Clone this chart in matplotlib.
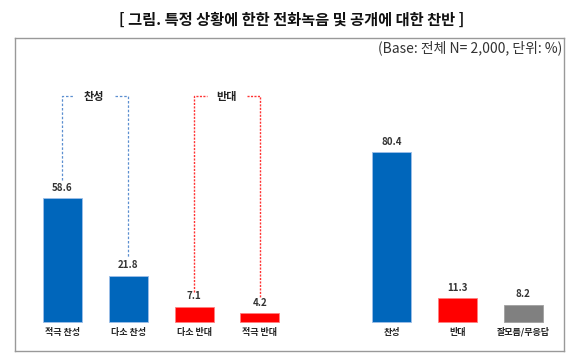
import matplotlib.pyplot as plt

plt.rcParams['font.family'] = ['Noto Sans CJK KR', 'DejaVu Sans']

# 데이터
categories = ['적극 찬성', '다소 찬성', '다소 반대', '적극 반대', '', '찬성', '반대', '잘모름/무응답']
values = [58.6, 21.8, 7.1, 4.2, None, 80.4, 11.3, 8.2]
colors = ['#0066BB', '#0066BB', '#FF0000', '#FF0000', None, '#0066BB', '#FF0000', '#808080']
edges = ['#9DBEE8', '#9DBEE8', '#FF8080', '#FF8080', None, '#9DBEE8', '#FF8080', '#A0A0A0']

title = '[ 그림. 특정 상황에 한한 전화녹음 및 공개에 대한 찬반 ]'
subtitle = '(Base: 전체 N= 2,000, 단위: %)'

fig = plt.figure(figsize=(5.8, 3.61), dpi=100)
W, H = 580, 361
# 박스 위치 (픽셀)
ax = fig.add_axes([15 / W, 1 - 351 / H, (564 - 15) / W, (351 - 38) / H])

step = 65.8
x0 = 62.5
ax.set_xlim((15 - x0) / step, (564 - x0) / step)
ax.set_ylim(-(351 - 322) / 2.11, (322 - 38) / 2.11)

for i, (cat, v, c, e) in enumerate(zip(categories, values, colors, edges)):
    if v is None:
        continue
    ax.bar(i, v, width=0.59, color=c, edgecolor=e, linewidth=0.6)
    ax.annotate(f'{v:.1f}', (i, v), xytext=(0, 4), textcoords='offset points',
                ha='center', va='bottom', fontsize=7, fontweight='bold', color='#333333')
    ax.text(i, -4.8, cat, ha='center', va='center', fontsize=6.5, fontweight='bold', color='#222222')

# 찬성 / 반대 괄호선
top = 107
ax.plot([0, 0, 0.16], [67.3, top, top], color='#5B8FD0', ls=(0, (2, 1.5)), lw=0.9)
ax.plot([0.80, 1, 1], [top, top, 30.3], color='#5B8FD0', ls=(0, (2, 1.5)), lw=0.9)
ax.text(0.48, top, '찬성', ha='center', va='center', fontsize=8, fontweight='bold', color='#222222')

ax.plot([2, 2, 2.2], [14.2, top, top], color='#FF3333', ls=(0, (1.5, 1)), lw=1.0)
ax.plot([2.8, 3, 3], [top, top, 11.8], color='#FF3333', ls=(0, (1.5, 1)), lw=1.0)
ax.text(2.5, top, '반대', ha='center', va='center', fontsize=8, fontweight='bold', color='#222222')

ax.set_xticks([])
ax.set_yticks([])
for s in ax.spines.values():
    s.set_color('#999999')
    s.set_linewidth(1.0)

fig.text(292 / W, 1 - 20 / H, title, ha='center', va='center', fontsize=11, fontweight='bold', color='#111111')
fig.text(562 / W, 1 - 48 / H, subtitle, ha='right', va='center', fontsize=10, color='#333333')

fig.savefig('out.png', dpi=100)
